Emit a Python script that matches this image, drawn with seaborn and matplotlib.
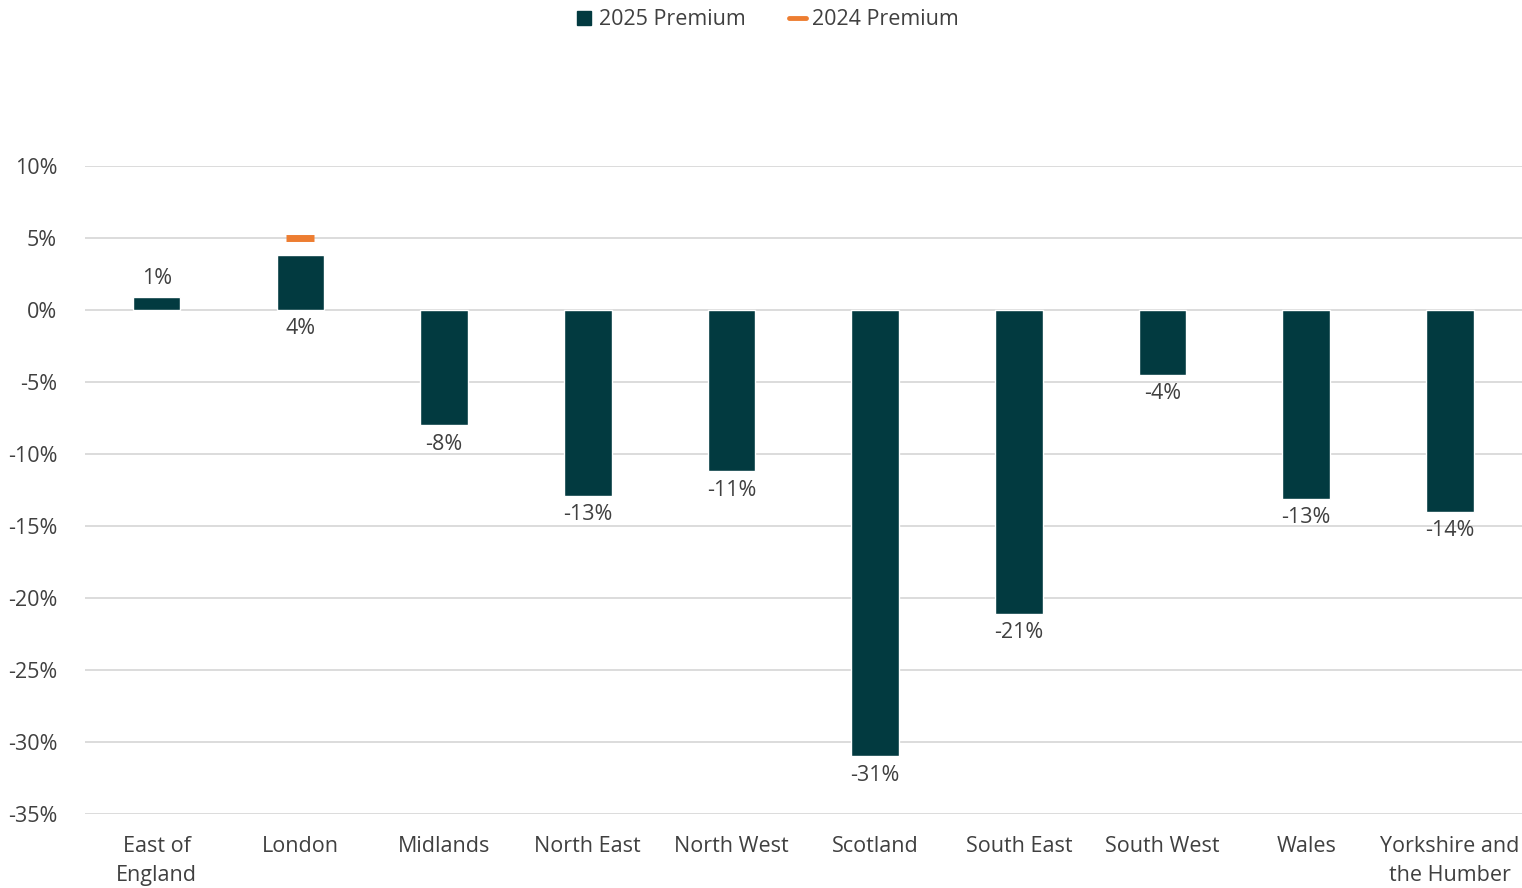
import matplotlib
matplotlib.use("Agg")
import matplotlib.pyplot as plt
from matplotlib.lines import Line2D
import seaborn as sns
import pandas as pd
import numpy as np

regions = ["East of\nEngland", "London", "Midlands", "North East", "North West",
           "Scotland", "South East", "South West", "Wales", "Yorkshire and\nthe Humber"]
premium_2025 = [0.9, 3.8, -8.0, -12.9, -11.2, -31.0, -21.1, -4.5, -13.1, -14.0]
premium_2024 = [np.nan, 5.0, np.nan, np.nan, np.nan, np.nan, np.nan, np.nan, np.nan, np.nan]
value_labels = ["1%", "4%", "-8%", "-13%", "-11%", "-31%", "-21%", "-4%", "-13%", "-14%"]
yticks = [10, 5, 0, -5, -10, -15, -20, -25, -30, -35]

df = pd.DataFrame({"region": regions, "p2025": premium_2025, "p2024": premium_2024})

sns.set_theme(style="white")
plt.rcParams["font.family"] = ["Open Sans", "DejaVu Sans"]

TEAL = "#023a40"
ORANGE = "#ed7d31"
TXT = "#404040"
FS = 15.5

fig = plt.figure(figsize=(15.22, 8.88), dpi=100)
ax = fig.add_axes([0.0558, 0.0833, 0.9440, 0.7297])

sns.barplot(data=df, x="region", y="p2025", order=regions, color=TEAL,
            saturation=1, width=0.33, ax=ax, zorder=3)
sns.pointplot(data=df, x="region", y="p2024", order=regions, color=ORANGE,
              marker="_", linestyle="none", markersize=20, markeredgewidth=5,
              errorbar=None, ax=ax, zorder=4)

ax.set_ylim(-35, 10)
ax.set_xlim(-0.5, len(regions) - 0.5)
ax.set_yticks(yticks)
ax.set_yticklabels([f"{t}%" for t in yticks])
ax.yaxis.grid(True, color="#d9d9d9", linewidth=1.3, zorder=0)
ax.set_axisbelow(True)
for s in ax.spines.values():
    s.set_visible(False)
ax.tick_params(axis="both", length=0, labelsize=FS, labelcolor=TXT)
ax.tick_params(axis="x", pad=16)
ax.tick_params(axis="y", pad=20)
for t in ax.get_xticklabels():
    t.set_linespacing(1.5)
ax.set_xlabel("")
ax.set_ylabel("")

for i, (v, lab, p24) in enumerate(zip(premium_2025, value_labels, premium_2024)):
    if v >= 0 and np.isnan(p24):
        ax.annotate(lab, (i, v), xytext=(0, 6), textcoords="offset points",
                    ha="center", va="bottom", fontsize=FS, color=TXT)
    else:
        base = min(v, 0)
        ax.annotate(lab, (i, base), xytext=(0, -6), textcoords="offset points",
                    ha="center", va="top", fontsize=FS, color=TXT)

handles = [
    Line2D([], [], marker="s", color=TEAL, linestyle="none", markersize=10.5),
    Line2D([], [], color=ORANGE, linewidth=3.5),
]
fig.legend(handles, ["2025 Premium", "2024 Premium"], loc="center",
           bbox_to_anchor=(0.504, 0.978), ncol=2, frameon=False, fontsize=FS,
           labelcolor=TXT, handlelength=0.8, handletextpad=0.3, columnspacing=2.0)

fig.savefig("out.png", dpi=100)
